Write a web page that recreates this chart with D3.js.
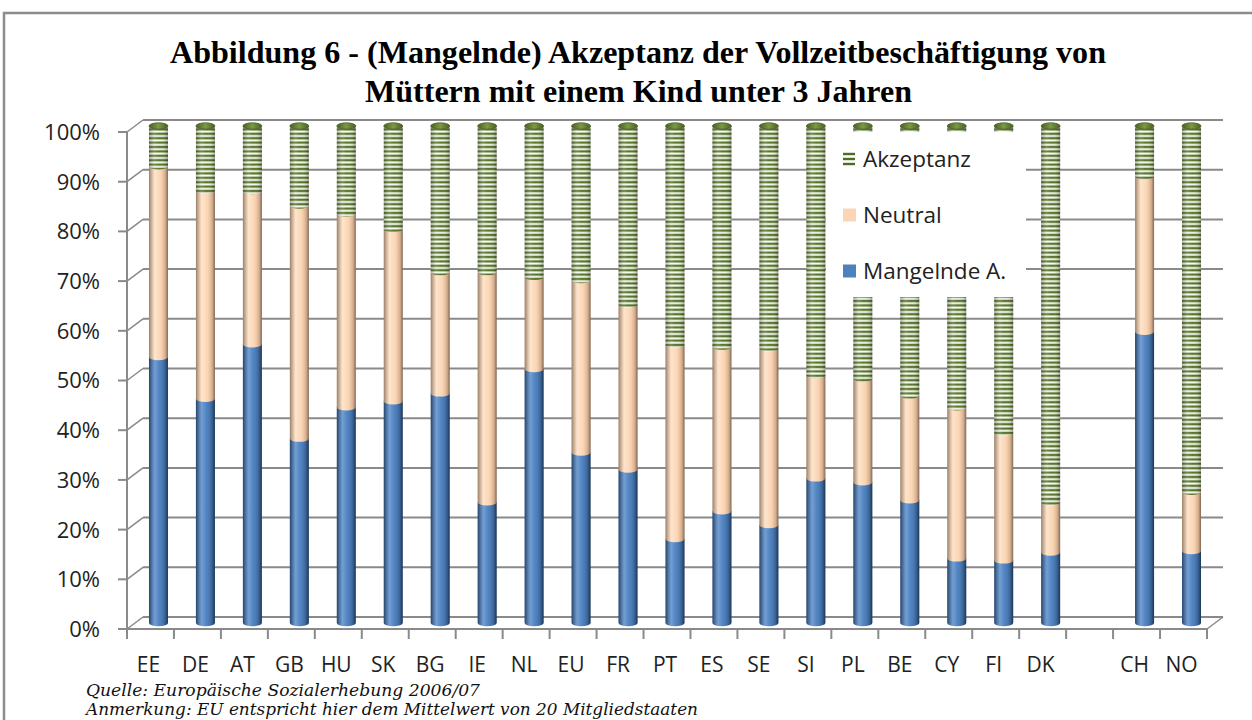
<!DOCTYPE html>
<html>
<head>
<meta charset="utf-8">
<script src="https://cdnjs.cloudflare.com/ajax/libs/d3/7.8.5/d3.min.js"></script>
<style>
  body { margin: 0; background: #fff; }
  svg { display: block; }
</style>
</head>
<body>
<svg width="1252" height="720"></svg>
<script>
// values (share of respondents, %)
var countries = ["EE","DE","AT","GB","HU","SK","BG","IE","NL","EU","FR","PT","ES","SE","SI","PL","BE","CY","FI","DK","CH","NO"];
var mangelnde = [53.5,45.1,56.1,37.1,43.4,44.6,46.2,24.3,51.1,34.3,30.9,16.9,22.5,19.7,29.1,28.3,24.7,13.0,12.6,14.2,58.6,14.5];
var neutral   = [38.4,41.9,30.8,46.9,39.0,34.7,24.4,46.3,18.5,34.7,33.2,39.1,33.1,35.6,20.7,20.9,21.1,30.4,25.7,10.1,31.3,11.9];
var akzeptanz = [8.1,13.0,13.1,16.0,17.6,20.7,29.4,29.4,30.4,31.0,35.9,44.0,44.4,44.7,50.2,50.8,54.2,56.6,61.7,75.7,10.1,73.6];
var yTicks = [0,10,20,30,40,50,60,70,80,90,100];
var seriesKeys = ["mangelnde","neutral","akzeptanz"];
var legendLabels = ["Akzeptanz","Neutral","Mangelnde A."];
var titleLines = ["Abbildung 6 - (Mangelnde) Akzeptanz der Vollzeitbeschäftigung von",
                  "Müttern mit einem Kind unter 3 Jahren"];
var notes = ["Quelle: Europäische Sozialerhebung 2006/07",
             "Anmerkung: EU entspricht hier dem Mittelwert von 20 Mitgliedstaaten"];

// gap slot between DK and CH
var slots = countries.slice(0, 20).concat(["_gap"], countries.slice(20));

var rows = countries.map(function(c, i) {
  return {country: c, mangelnde: mangelnde[i], neutral: neutral[i], akzeptanz: akzeptanz[i]};
});

var svg = d3.select("svg");
var X0 = 127, X1 = 1207, Y0 = 629, Y1 = 132;
var dx = 16, dy = -12;        // depth of the 3d box
var gridColor = "#8a8a8a";

var x = d3.scaleBand().domain(slots).range([X0, X1]);
var y = d3.scaleLinear().domain([0, 100]).range([Y0, Y1]);

// frame
svg.append("path").attr("d", "M4,720 L4,13 L1252,13")
  .attr("fill", "none").attr("stroke", "#8c8c8c").attr("stroke-width", 2.5);

// title
svg.selectAll("text.title").data(titleLines).enter().append("text")
  .attr("class", "title")
  .attr("x", function(d, i) { return i ? 365 : 170; })
  .attr("y", function(d, i) { return i ? 102 : 63; })
  .attr("textLength", function(d, i) { return i ? 547 : 936; })
  .attr("lengthAdjust", "spacingAndGlyphs")
  .style("font-family", "'Liberation Serif', 'Times New Roman', serif")
  .style("font-weight", "bold")
  .style("font-size", "32px")
  .text(function(d) { return d; });

var defs = svg.append("defs");

function hGrad(id, stops) {
  var g = defs.append("linearGradient").attr("id", id)
    .attr("x1", "0").attr("x2", "1").attr("y1", "0").attr("y2", "0");
  stops.forEach(function(s) {
    g.append("stop").attr("offset", s[0]).attr("stop-color", s[1]).attr("stop-opacity", s[2] == null ? 1 : s[2]);
  });
}
hGrad("g-mangelnde", [[0,"#2f5a8e"],[0.3,"#5a8dcb"],[0.55,"#5084c2"],[0.85,"#3e6ba3"],[1,"#2a4f7d"]]);
hGrad("g-neutral", [[0,"#cfa887"],[0.3,"#fde0c4"],[0.6,"#fcd6b5"],[0.88,"#e9bf9c"],[1,"#b99478"]]);
hGrad("shade", [[0,"#000",0.25],[0.3,"#fff",0.15],[0.55,"#fff",0],[0.85,"#000",0.1],[1,"#000",0.3]]);
hGrad("g-cap", [[0,"#4a5e25"],[0.5,"#7c9a46"],[1,"#4a5e25"]]);

var pat = defs.append("pattern").attr("id", "p-akzeptanz")
  .attr("patternUnits", "userSpaceOnUse").attr("width", 40).attr("height", 4.4);
pat.append("rect").attr("width", 40).attr("height", 4.4).attr("fill", "#fbfdf6");
pat.append("rect").attr("y", 0.6).attr("width", 40).attr("height", 2.4).attr("fill", "#58752b");

var fills = {mangelnde: "url(#g-mangelnde)", neutral: "url(#g-neutral)", akzeptanz: "url(#p-akzeptanz)"};

// back wall gridlines
svg.append("g").selectAll("line").data(yTicks).enter().append("line")
  .attr("x1", X0 + dx).attr("x2", X1 + dx)
  .attr("y1", function(d) { return y(d) + dy; }).attr("y2", function(d) { return y(d) + dy; })
  .attr("stroke", gridColor).attr("stroke-width", 2);

// left side wall
svg.append("g").selectAll("line").data(yTicks).enter().append("line")
  .attr("x1", X0).attr("x2", X0 + dx)
  .attr("y1", function(d) { return y(d); }).attr("y2", function(d) { return y(d) + dy; })
  .attr("stroke", gridColor).attr("stroke-width", 1.5);

// floor right edge
svg.append("line").attr("x1", X1).attr("y1", Y0).attr("x2", X1 + dx).attr("y2", Y0 + dy)
  .attr("stroke", gridColor).attr("stroke-width", 1.5);

// bars
var stack = d3.stack().keys(seriesKeys);
var layers = stack(rows);
var bw = 19, rx = bw / 2, ry = 3.2;

function segPath(cx, yt, yb) {
  var l = cx - rx, r = cx + rx;
  return "M" + l + "," + yt + " L" + l + "," + yb + " A" + rx + "," + ry + " 0 0 0 " + r + "," + yb + " L" + r + "," + yt + " Z";
}

var barG = svg.append("g");
rows.forEach(function(row, i) {
  var cx = x(row.country) + x.bandwidth() / 2 + dx / 2;
  var g = barG.append("g");
  layers.forEach(function(layer) {
    var seg = layer[i];
    var yt = y(seg[1]) + dy / 2, yb = y(seg[0]) + dy / 2;
    g.append("path").attr("d", segPath(cx, yt, yb)).attr("fill", fills[layer.key]);
    g.append("path").attr("d", segPath(cx, yt, yb)).attr("fill", "url(#shade)");
  });
  var top = y(100) + dy / 2;
  g.append("ellipse").attr("cx", cx).attr("cy", top).attr("rx", rx).attr("ry", ry)
    .attr("fill", "url(#g-cap)").attr("stroke", "#4a5e25").attr("stroke-width", 0.8);
});

// front axes
svg.append("line").attr("x1", X0).attr("x2", X0).attr("y1", Y1).attr("y2", Y0)
  .attr("stroke", gridColor).attr("stroke-width", 2);
svg.append("line").attr("x1", X0 - 1).attr("x2", X1).attr("y1", Y0).attr("y2", Y0)
  .attr("stroke", gridColor).attr("stroke-width", 2);

var yAxis = svg.append("g").selectAll("g").data(yTicks).enter().append("g");
yAxis.append("line").attr("x1", X0 - 9).attr("x2", X0)
  .attr("y1", function(d) { return y(d); }).attr("y2", function(d) { return y(d); })
  .attr("stroke", gridColor).attr("stroke-width", 2);
yAxis.append("text")
  .attr("x", X0 - 27).attr("y", function(d) { return y(d); })
  .attr("dy", "0.36em").attr("text-anchor", "end")
  .style("font-family", "'Open Sans', sans-serif").style("font-size", "22px").style("fill", "#222")
  .text(function(d) { return d + "%"; });

// category ticks at slot boundaries
var bounds = slots.map(function(s) { return x(s); }).concat([X1]);
svg.append("g").selectAll("line").data(bounds).enter().append("line")
  .attr("x1", function(d) { return d; }).attr("x2", function(d) { return d; })
  .attr("y1", Y0).attr("y2", Y0 + 10)
  .attr("stroke", gridColor).attr("stroke-width", 2);

svg.append("g").selectAll("text").data(countries).enter().append("text")
  .attr("x", function(d) { return x(d) + x.bandwidth() / 2 - 2; })
  .attr("y", 672).attr("text-anchor", "middle")
  .style("font-family", "'Open Sans', sans-serif").style("font-size", "21px").style("fill", "#222")
  .text(function(d) { return d; });

// legend
var leg = svg.append("g");
leg.append("rect").attr("x", 826).attr("y", 132).attr("width", 200).attr("height", 165).attr("fill", "#fff");
var legKeys = ["akzeptanz", "neutral", "mangelnde"];
legKeys.forEach(function(k, i) {
  var cy = 159 + i * 56;
  if (k === "akzeptanz") {
    [-5, 0, 5].forEach(function(o) {
      leg.append("rect").attr("x", 843).attr("y", cy + o - 1.2).attr("width", 12).attr("height", 2.4).attr("fill", "#4f6d22");
    });
  } else {
    leg.append("rect").attr("x", 843).attr("y", cy - 6.5).attr("width", 13).attr("height", 13)
      .attr("fill", k === "neutral" ? "#fcd5b5" : "#4f81bd");
  }
  leg.append("text").attr("x", 863).attr("y", cy).attr("dy", "0.36em")
    .style("font-family", "'Open Sans', sans-serif").style("font-size", "22.5px").style("fill", "#222")
    .text(legendLabels[i]);
});

// notes
svg.selectAll("text.note").data(notes).enter().append("text")
  .attr("class", "note")
  .attr("x", 86).attr("y", function(d, i) { return 696 + i * 19; })
  .attr("textLength", function(d, i) { return i ? 612 : 394; })
  .attr("lengthAdjust", "spacingAndGlyphs")
  .style("font-family", "'DejaVu Serif', serif").style("font-style", "italic")
  .style("font-size", "16px").style("fill", "#111")
  .text(function(d) { return d; });
</script>
</body>
</html>
